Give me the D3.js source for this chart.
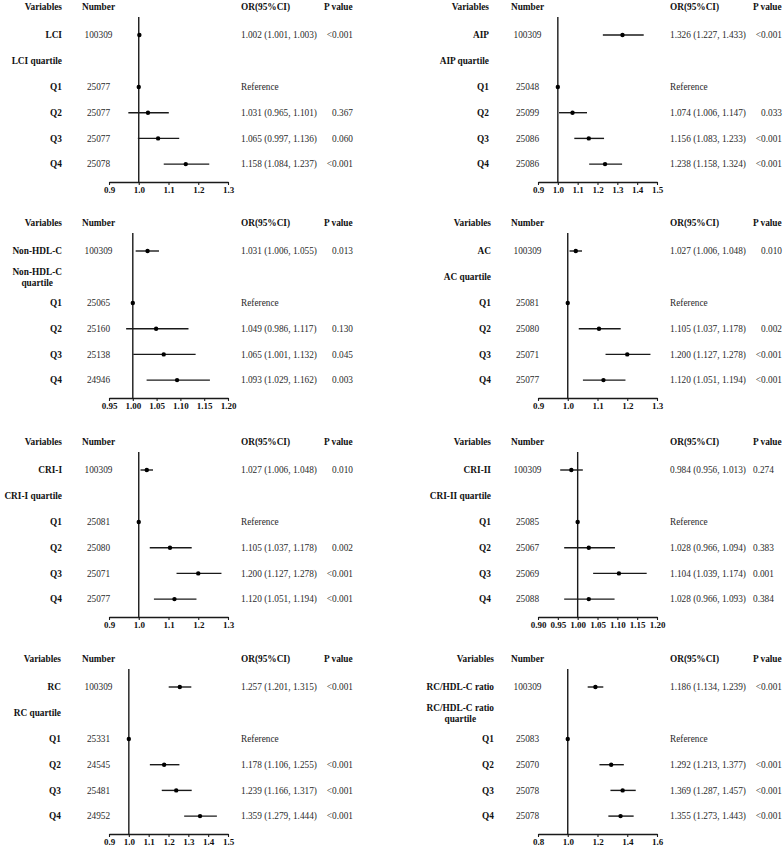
<!DOCTYPE html>
<html>
<head>
<meta charset="utf-8">
<script src="https://cdn.jsdelivr.net/npm/d3@7"></script>
<style>
  html, body { margin: 0; padding: 0; background: #fff; }
  svg { display: block; }
  text { font-family: "Liberation Serif", "Times New Roman", serif; }
</style>
</head>
<body>
<svg id="chart" width="784" height="850"></svg>
<script>
// ---------------- DATA ----------------
const variables = ["LCI", "AIP", "Non-HDL-C", "AC", "CRI-I", "CRI-II", "RC", "RC/HDL-C ratio"];
const quartileLabels = [
  ["LCI quartile"], ["AIP quartile"], ["Non-HDL-C", "quartile"], ["AC quartile"],
  ["CRI-I quartile"], ["CRI-II quartile"], ["RC quartile"], ["RC/HDL-C ratio", "quartile"]
];
const quartileNames = ["Q1", "Q2", "Q3", "Q4"];

// overall (continuous) rows
const overallN  = [100309, 100309, 100309, 100309, 100309, 100309, 100309, 100309];
const overallOR = [1.002, 1.326, 1.031, 1.027, 1.027, 0.984, 1.257, 1.186];
const overallLo = [1.001, 1.227, 1.006, 1.006, 1.006, 0.956, 1.201, 1.134];
const overallHi = [1.003, 1.433, 1.055, 1.048, 1.048, 1.013, 1.315, 1.239];
const overallP  = ["<0.001", "<0.001", "0.013", "0.010", "0.010", "0.274", "<0.001", "<0.001"];

// quartile rows (Q1 is reference)
const quartileN = [
  [25077, 25077, 25077, 25078],
  [25048, 25099, 25086, 25086],
  [25065, 25160, 25138, 24946],
  [25081, 25080, 25071, 25077],
  [25081, 25080, 25071, 25077],
  [25085, 25067, 25069, 25088],
  [25331, 24545, 25481, 24952],
  [25083, 25070, 25078, 25078]
];
const quartileOR = [
  [1, 1.031, 1.065, 1.158],
  [1, 1.074, 1.156, 1.238],
  [1, 1.049, 1.065, 1.093],
  [1, 1.105, 1.200, 1.120],
  [1, 1.105, 1.200, 1.120],
  [1, 1.028, 1.104, 1.028],
  [1, 1.178, 1.239, 1.359],
  [1, 1.292, 1.369, 1.355]
];
const quartileLo = [
  [null, 0.965, 0.997, 1.084],
  [null, 1.006, 1.083, 1.158],
  [null, 0.986, 1.001, 1.029],
  [null, 1.037, 1.127, 1.051],
  [null, 1.037, 1.127, 1.051],
  [null, 0.966, 1.039, 0.966],
  [null, 1.106, 1.166, 1.279],
  [null, 1.213, 1.287, 1.273]
];
const quartileHi = [
  [null, 1.101, 1.136, 1.237],
  [null, 1.147, 1.233, 1.324],
  [null, 1.117, 1.132, 1.162],
  [null, 1.178, 1.278, 1.194],
  [null, 1.178, 1.278, 1.194],
  [null, 1.094, 1.174, 1.093],
  [null, 1.255, 1.317, 1.444],
  [null, 1.377, 1.457, 1.443]
];
const quartileP = [
  [null, "0.367", "0.060", "<0.001"],
  [null, "0.033", "<0.001", "<0.001"],
  [null, "0.130", "0.045", "0.003"],
  [null, "0.002", "<0.001", "<0.001"],
  [null, "0.002", "<0.001", "<0.001"],
  [null, "0.383", "0.001", "0.384"],
  [null, "<0.001", "<0.001", "<0.001"],
  [null, "<0.001", "<0.001", "<0.001"]
];

// axis domains and tick labels
const axisDomains = [[0.9, 1.3], [0.9, 1.5], [0.95, 1.20], [0.9, 1.3], [0.9, 1.3], [0.90, 1.20], [0.9, 1.5], [0.8, 1.6]];
const tickValues = [
  [0.9, 1.0, 1.1, 1.2, 1.3],
  [0.9, 1.0, 1.1, 1.2, 1.3, 1.4, 1.5],
  [0.95, 1.00, 1.05, 1.10, 1.15, 1.20],
  [0.9, 1.0, 1.1, 1.2, 1.3],
  [0.9, 1.0, 1.1, 1.2, 1.3],
  [0.90, 0.95, 1.00, 1.05, 1.10, 1.15, 1.20],
  [0.9, 1.0, 1.1, 1.2, 1.3, 1.4, 1.5],
  [0.8, 1.0, 1.2, 1.4, 1.6]
];
const tickFormats = [".1f", ".1f", ".2f", ".1f", ".1f", ".2f", ".1f", ".1f"];
const headers = ["Variables", "Number", "OR(95%CI)", "P value"];

// ---------------- LAYOUT ----------------
const panelCols = [0, 429];
const panelRows = [0, 216, 435, 652];
const labelRight = [62, 60, 62, 62, 62, 62, 61, 65];
const pAnchorStart = [false, false, false, false, false, true, false, false];
const L = {
  numX: 98.5, orX: 241, pRight: 353, pLeft: 324,
  x0: 109, x1: 228,
  headerY: 7, row1Y: 35, quartY: 61, q1Y: 87, qStep: 25.7,
  axisY: 182, refTop: 17
};
const FS = 9.3;
const valueColor = "#2a2a2a";
const lineColor = "#1a1a1a";

const svg = d3.select("#chart");
const fmt3 = d3.format(".3f");

variables.forEach((v, i) => {
  const g = svg.append("g")
    .attr("transform", `translate(${panelCols[i % 2]},${panelRows[Math.floor(i / 2)]})`);
  const lx = labelRight[i];

  // headers
  const hdr = g.append("g").attr("font-weight", "bold").attr("font-size", FS).attr("fill", "#111");
  hdr.append("text").attr("x", lx).attr("y", L.headerY).attr("dy", "0.35em").attr("text-anchor", "end").text(headers[0]);
  hdr.append("text").attr("x", L.numX).attr("y", L.headerY).attr("dy", "0.35em").attr("text-anchor", "middle").text(headers[1]);
  hdr.append("text").attr("x", L.orX).attr("y", L.headerY).attr("dy", "0.35em").attr("text-anchor", "start").text(headers[2]);
  hdr.append("text").attr("x", L.pLeft).attr("y", L.headerY).attr("dy", "0.35em").attr("text-anchor", "start").text(headers[3]);

  // scales
  const x = d3.scaleLinear().domain(axisDomains[i]).range([L.x0, L.x1]);
  const yQ = d3.scalePoint().domain(quartileNames).range([L.q1Y, L.q1Y + 3 * L.qStep]);

  // row data
  const rows = [{
    label: v, n: overallN[i], or: overallOR[i], lo: overallLo[i], hi: overallHi[i], p: overallP[i], y: L.row1Y
  }];
  quartileNames.forEach((q, k) => rows.push({
    label: q, n: quartileN[i][k], or: quartileOR[i][k], lo: quartileLo[i][k], hi: quartileHi[i][k],
    p: quartileP[i][k], y: yQ(q)
  }));

  // reference line at OR = 1
  g.append("line")
    .attr("x1", x(1)).attr("x2", x(1))
    .attr("y1", L.refTop).attr("y2", L.axisY)
    .attr("stroke", lineColor).attr("stroke-width", 1.4);

  // axis
  const axis = d3.axisBottom(x).tickValues(tickValues[i]).tickFormat(d3.format(tickFormats[i]))
    .tickSizeOuter(0).tickSizeInner(3).tickPadding(1.5);
  const ag = g.append("g").attr("transform", `translate(0,${L.axisY})`).call(axis);
  ag.select(".domain").attr("stroke", lineColor).attr("stroke-width", 1.3);
  ag.selectAll(".tick line").attr("stroke", lineColor).attr("stroke-width", 1.1);
  ag.selectAll(".tick text")
    .attr("font-family", '"Liberation Serif", "Times New Roman", serif')
    .attr("font-size", 9).attr("font-weight", "bold").attr("fill", "#111");

  // row labels
  g.selectAll("text.lab").data(rows).enter().append("text")
    .attr("class", "lab")
    .attr("x", lx).attr("y", d => d.y).attr("dy", "0.35em")
    .attr("text-anchor", "end").attr("font-weight", "bold").attr("font-size", FS).attr("fill", "#111")
    .text(d => d.label);

  // quartile group label (1 or 2 lines, centered block right-aligned)
  const qLines = quartileLabels[i];
  if (qLines.length === 1) {
    g.append("text").attr("x", lx).attr("y", L.quartY).attr("dy", "0.35em")
      .attr("text-anchor", "end").attr("font-weight", "bold").attr("font-size", FS).attr("fill", "#111")
      .text(qLines[0]);
  } else {
    const tmp = g.append("text").attr("font-weight", "bold").attr("font-size", FS).text(qLines[0]);
    const w = tmp.node().getComputedTextLength();
    tmp.remove();
    const cx = lx - w / 2;
    qLines.forEach((t, k) => {
      g.append("text").attr("x", cx).attr("y", L.quartY + (k - 0.5) * 11).attr("dy", "0.35em")
        .attr("text-anchor", "middle").attr("font-weight", "bold").attr("font-size", FS).attr("fill", "#111")
        .text(t);
    });
  }

  // numbers
  g.selectAll("text.num").data(rows).enter().append("text")
    .attr("class", "num")
    .attr("x", L.numX).attr("y", d => d.y).attr("dy", "0.35em")
    .attr("text-anchor", "middle").attr("font-size", FS).attr("fill", valueColor)
    .text(d => d.n);

  // OR text
  g.selectAll("text.or").data(rows).enter().append("text")
    .attr("class", "or")
    .attr("x", L.orX).attr("y", d => d.y).attr("dy", "0.35em")
    .attr("text-anchor", "start").attr("font-size", FS).attr("fill", valueColor)
    .text(d => d.lo == null ? "Reference" : `${fmt3(d.or)} (${fmt3(d.lo)}, ${fmt3(d.hi)})`);

  // P values
  g.selectAll("text.p").data(rows.filter(d => d.p != null)).enter().append("text")
    .attr("class", "p")
    .attr("x", pAnchorStart[i] ? L.pLeft : L.pRight).attr("y", d => d.y).attr("dy", "0.35em")
    .attr("text-anchor", pAnchorStart[i] ? "start" : "end").attr("font-size", FS).attr("fill", valueColor)
    .text(d => d.p);

  // CI lines
  g.selectAll("line.ci").data(rows.filter(d => d.lo != null)).enter().append("line")
    .attr("class", "ci")
    .attr("x1", d => x(d.lo)).attr("x2", d => x(d.hi))
    .attr("y1", d => d.y).attr("y2", d => d.y)
    .attr("stroke", lineColor).attr("stroke-width", 1.4);

  // point estimates
  g.selectAll("circle.pt").data(rows).enter().append("circle")
    .attr("class", "pt")
    .attr("cx", d => x(d.or)).attr("cy", d => d.y).attr("r", 2.2)
    .attr("fill", "#000");
});
</script>
</body>
</html>
